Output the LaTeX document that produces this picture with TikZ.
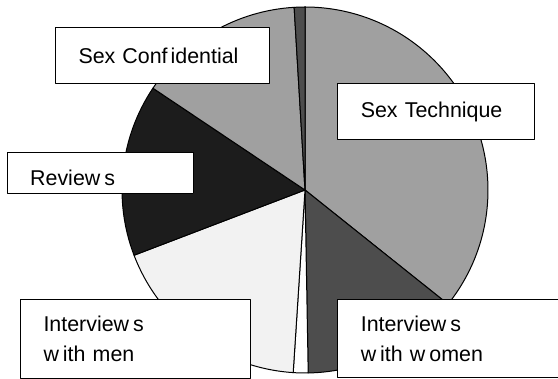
\documentclass[tikz,border=0pt]{standalone}
\usepackage{fontspec}
\setmainfont{Liberation Sans}
\usepackage{xcolor}
\usepackage{tikz}
\definecolor{slicegray}{HTML}{A0A0A0}
\definecolor{slicedark}{HTML}{4D4D4D}
\definecolor{sliceblack}{HTML}{1C1C1C}
\definecolor{slicepale}{HTML}{F2F2F2}
\newcommand{\lblfont}{\fontsize{21.4}{30}\selectfont}
\newcommand{\gap}{\kern4pt}
\tikzset{labelbox/.style={draw, fill=white, line width=1pt, anchor=north west,
    align=left, inner xsep=23pt, inner ysep=0pt, font=\lblfont}}

\begin{document}
\begin{tikzpicture}[x=1pt, y=1pt, line join=round]
    \useasboundingbox (0,0) rectangle (558,379);
    \clip (0,0) rectangle (558,379);
    \begin{scope}[shift={(305,189)}]
      \foreach \from/\to/\tone in {-38.6/90/slicegray, -89/-38.6/slicedark,
          -93.7/-89/white, -159.1/-93.7/slicepale, 146.2/200.9/sliceblack,
          93.4/146.2/slicegray, 90/93.4/slicedark}{
        \draw[line width=1pt, fill=\tone] (0,0) -- (\from:183)
          arc[start angle=\from, end angle=\to, radius=183] -- cycle;
      }
    \end{scope}
    \node[labelbox, text width=168.3pt, minimum height=55.4pt] (confidential)
      at (55,351.7) {Sex Conf\kern3pt idential};
    \node[labelbox, text width=151pt, minimum height=55.7pt] (technique)
      at (337.3,295.7) {Sex Technique};
    \node[labelbox, text width=140.6pt, minimum height=41pt, text height=24pt] (reviews)
      at (6.7,226.7) {Review\gap s};
    \node[labelbox, text width=184pt, minimum height=79.3pt] (men)
      at (20,80) {Interview\gap s\\w\gap ith men};
    \node[labelbox, text width=180pt, minimum height=77.4pt] (women)
      at (337.3,79.7) {Interview\gap s\\w\gap ith w\gap omen};
\end{tikzpicture}
\end{document}
